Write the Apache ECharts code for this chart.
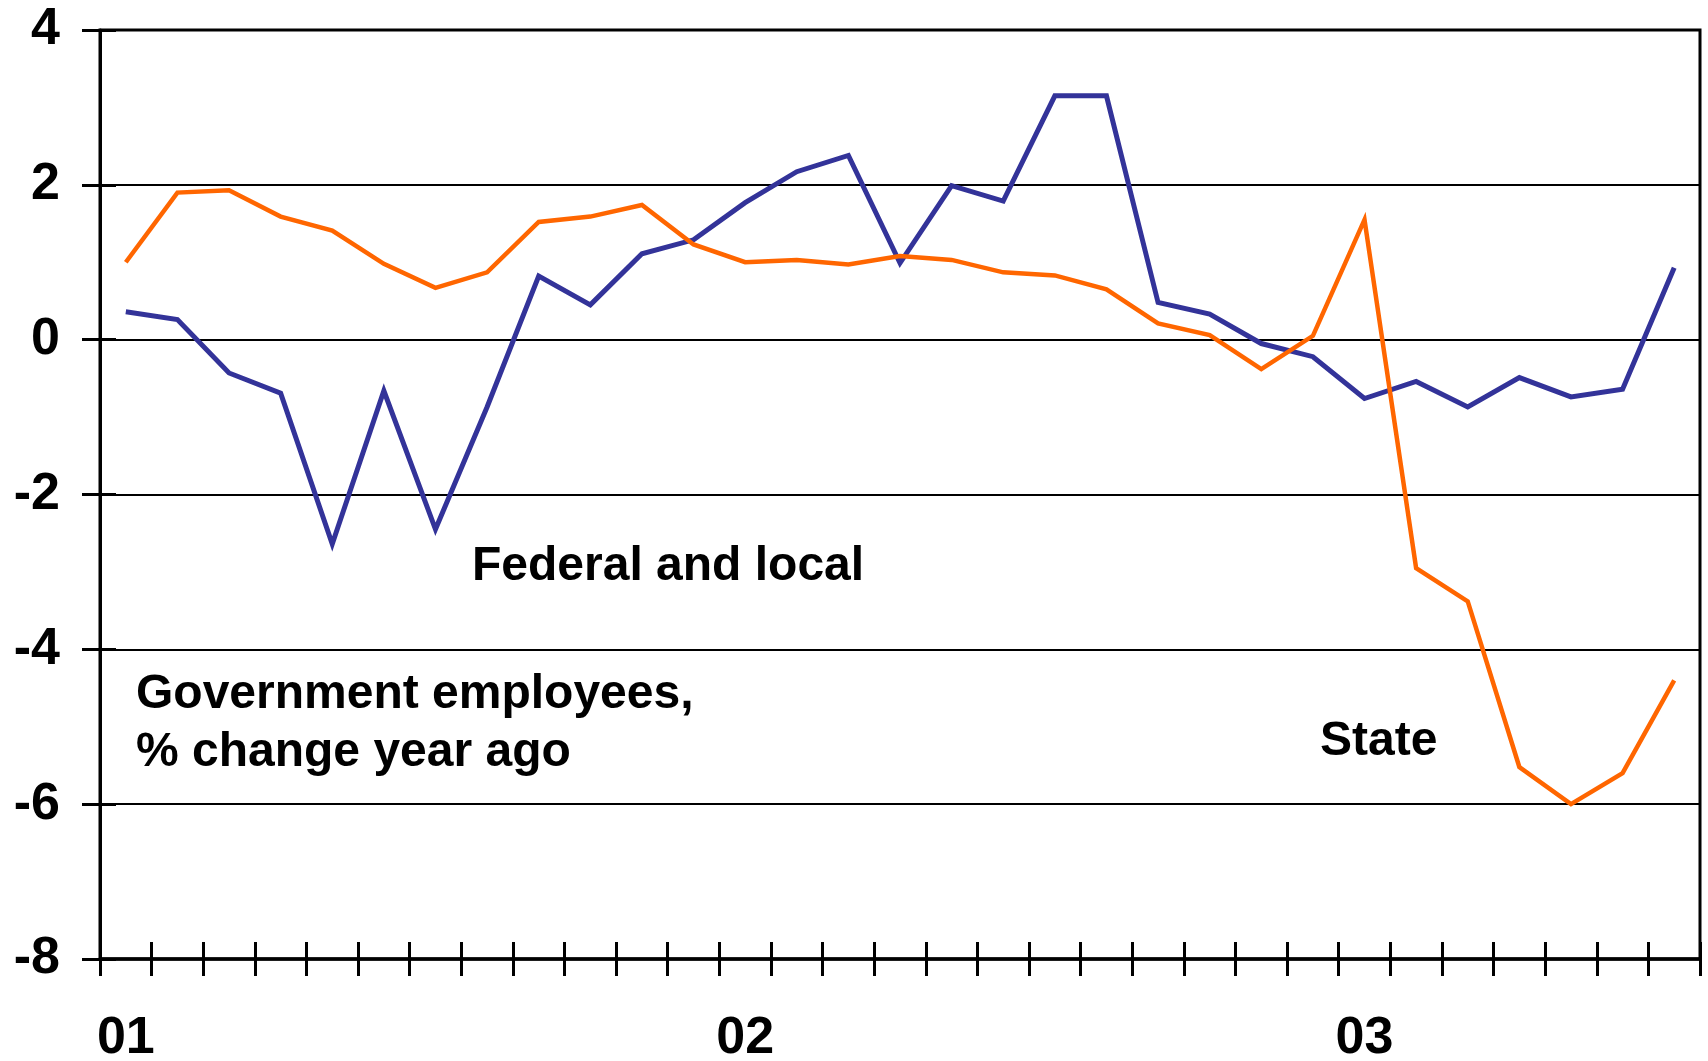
<!DOCTYPE html>
<html>
<head>
<meta charset="utf-8">
<title>Government employees, % change year ago</title>
<script src="https://cdn.jsdelivr.net/npm/echarts@6/dist/echarts.min.js"></script>
<style>
  html, body { margin: 0; padding: 0; background: #fff; }
  #chart { width: 1708px; height: 1061px; }
</style>
</head>
<body>
<div id="chart"></div>
<script>
// Monthly observations, Jan 2001 through Jul 2003
const months = [
  '2001-01','2001-02','2001-03','2001-04','2001-05','2001-06','2001-07','2001-08','2001-09','2001-10','2001-11','2001-12',
  '2002-01','2002-02','2002-03','2002-04','2002-05','2002-06','2002-07','2002-08','2002-09','2002-10','2002-11','2002-12',
  '2003-01','2003-02','2003-03','2003-04','2003-05','2003-06','2003-07'
];

// Federal and local government employees, % change from a year ago
const federalLocal = [
  0.36, 0.26, -0.43, -0.69, -2.64, -0.66, -2.45, -0.87, 0.82, 0.45, 1.11, 1.29,
  1.77, 2.17, 2.38, 0.99, 1.99, 1.79, 3.15, 3.15, 0.48, 0.33, -0.05, -0.22,
  -0.76, -0.54, -0.87, -0.49, -0.74, -0.64, 0.93
];

// State government employees, % change from a year ago
const state = [
  1.00, 1.90, 1.93, 1.59, 1.41, 0.98, 0.67, 0.87, 1.52, 1.59, 1.74, 1.23,
  1.00, 1.03, 0.97, 1.08, 1.03, 0.87, 0.83, 0.65, 0.21, 0.06, -0.38, 0.05,
  1.55, -2.95, -3.38, -5.52, -6.00, -5.60, -4.40
];

// Year labels shown under each January
const xTickLabels = ['01', '02', '03'];
const yTicks = { min: -8, max: 4, step: 2 };

const FONT = '"Liberation Sans", Arial, sans-serif';
const INK = '#000';

const chart = echarts.init(document.getElementById('chart'), null, { renderer: 'canvas' });

const yearLabel = (value) => {
  const m = value.split('-');
  return m[1] === '01' ? xTickLabels[Number(m[0]) - 2001] : '';
};

chart.setOption({
  animation: false,
  backgroundColor: '#fff',
  grid: {
    left: 100, right: 8, top: 30, bottom: 102,
    containLabel: false, outerBoundsMode: 'none',
    show: true, borderColor: INK, borderWidth: 3, backgroundColor: 'transparent'
  },
  xAxis: [
    {
      type: 'category', data: months, boundaryGap: true, position: 'bottom',
      axisLine: { show: true, onZero: false, lineStyle: { color: INK, width: 3.5 } },
      axisTick: { show: true, interval: 0, inside: false, length: 17, lineStyle: { color: INK, width: 3 } },
      axisLabel: {
        interval: 0, margin: 54, formatter: yearLabel,
        color: INK, fontFamily: FONT, fontWeight: 'bold', fontSize: 52
      },
      splitLine: { show: false }
    },
    {
      // upward half of the crossing tick marks
      type: 'category', data: months, boundaryGap: true, position: 'bottom',
      axisLine: { show: false, onZero: false },
      axisTick: { show: true, interval: 0, inside: true, length: 17, lineStyle: { color: INK, width: 3 } },
      axisLabel: { show: false },
      splitLine: { show: false }
    }
  ],
  yAxis: [
    {
      type: 'value', min: yTicks.min, max: yTicks.max, interval: yTicks.step,
      axisLine: { show: true, onZero: false, lineStyle: { color: INK, width: 3 } },
      axisTick: { show: true, inside: false, length: 18, lineStyle: { color: INK, width: 3 } },
      axisLabel: {
        margin: 40, color: INK, fontFamily: FONT, fontWeight: 'bold', fontSize: 52
      },
      splitLine: { show: true, lineStyle: { color: INK, width: 2 } }
    },
    {
      type: 'value', min: yTicks.min, max: yTicks.max, interval: yTicks.step, position: 'left',
      axisLine: { show: false, onZero: false },
      axisTick: { show: true, inside: true, length: 16, lineStyle: { color: INK, width: 3 } },
      axisLabel: { show: false },
      splitLine: { show: false }
    }
  ],
  series: [
    {
      name: 'Federal and local', type: 'line', data: federalLocal,
      xAxisIndex: 0, yAxisIndex: 0, symbol: 'none', smooth: false,
      lineStyle: { color: '#333399', width: 5, join: 'miter' }, z: 3
    },
    {
      name: 'State', type: 'line', data: state,
      xAxisIndex: 0, yAxisIndex: 0, symbol: 'none', smooth: false,
      lineStyle: { color: '#FF6600', width: 4.5, join: 'miter' }, z: 4
    }
  ],
  graphic: [
    {
      type: 'text', left: 472, top: 543,
      style: { text: 'Federal and local', fill: INK, font: 'bold 48px ' + FONT }
    },
    {
      type: 'text', left: 136, top: 666,
      style: { text: 'Government employees,\n% change year ago', fill: INK, font: 'bold 48px ' + FONT, lineHeight: 58 }
    },
    {
      type: 'text', left: 1320, top: 718,
      style: { text: 'State', fill: INK, font: 'bold 48px ' + FONT }
    }
  ]
});
</script>
</body>
</html>
